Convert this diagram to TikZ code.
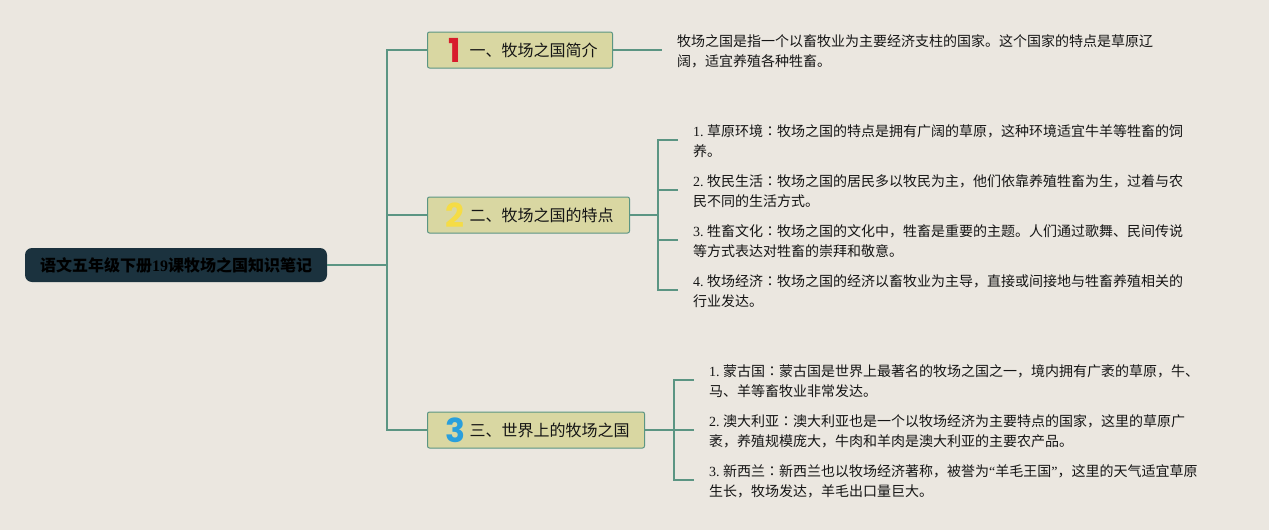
\documentclass[tikz,border=0pt]{standalone}
\usepackage{fontspec}
\setmainfont{Liberation Serif}
\newfontfamily\cjk{Noto Sans CJK SC}
\newfontfamily\cjktc{Noto Sans CJK TC}
\newfontfamily\lat{Liberation Serif}
\newfontfamily\numfont{Poppins}
\newcommand{\cc}{{\cjktc ：}}
\definecolor{bgc}{HTML}{EBE7E0}
\definecolor{linec}{HTML}{5B9583}
\definecolor{boxc}{HTML}{D9D7A2}
\definecolor{rootc}{HTML}{1B323E}
\definecolor{inkc}{HTML}{151515}
\definecolor{onec}{HTML}{D81C2C}
\definecolor{twoc}{HTML}{F5DC45}
\definecolor{threec}{HTML}{2A9FDC}
\tikzset{
  conn/.style={draw=linec,line width=2pt,line join=miter},
  rootbox/.style={draw=none,fill=rootc,rounded corners=7pt,minimum width=302pt,minimum height=34pt,inner sep=0pt,
    text=black,font=\cjk\bfseries\fontsize{16}{20}\selectfont},
  headbox/.style={anchor=west,draw=linec,line width=1pt,fill=boxc,rounded corners=2pt,minimum height=36pt,inner sep=0pt,
    text=inkc,font=\cjk\fontsize{16}{20}\selectfont},
  numlabel/.style={inner sep=0pt,font=\numfont\bfseries\fontsize{33}{33}\selectfont},
  detail/.style={anchor=west,inner xsep=15pt,inner ysep=0pt,align=left,text=inkc,font=\cjk\fontsize{14}{20}\selectfont}
}
\begin{document}
\begin{tikzpicture}[x=1pt,y=-1pt]
\useasboundingbox[fill=bgc] (0,0) rectangle (1269,530);
% root and headings
\node[rootbox] (root) at (176,265) {\raisebox{-0.7pt}{语文五年级下册{\lat\bfseries 19}课牧场之国知识笔记}};
\node[headbox] (b1) at (427,50) {\hspace*{42pt}\raisebox{-1pt}{一、牧场之国简介}\hspace*{15pt}};
\node[headbox] (b2) at (427,215) {\hspace*{42pt}\raisebox{-1pt}{二、牧场之国的特点}\hspace*{16pt}};
\node[headbox] (b3) at (427,430) {\hspace*{42pt}\raisebox{-1pt}{三、世界上的牧场之国}\hspace*{15pt}};
\node[numlabel,text=onec] (n1) at (455,50) {1};
\node[numlabel,text=twoc] (n2) at (455,215) {2};
\node[numlabel,text=threec] (n3) at (455,430) {3};
% details
\node[detail] (d11) at (662,51) {牧场之国是指一个以畜牧业为主要经济支柱的国家。这个国家的特点是草原辽\\阔，适宜养殖各种牲畜。};
\node[detail] (d21) at (678,141) {{\lat 1.\ }草原环境\cc 牧场之国的特点是拥有广阔的草原，这种环境适宜牛羊等牲畜的饲\\养。};
\node[detail] (d22) at (678,191) {{\lat 2.\ }牧民生活\cc 牧场之国的居民多以牧民为主，他们依靠养殖牲畜为生，过着与农\\民不同的生活方式。};
\node[detail] (d23) at (678,241) {{\lat 3.\ }牲畜文化\cc 牧场之国的文化中，牲畜是重要的主题。人们通过歌舞、民间传说\\等方式表达对牲畜的崇拜和敬意。};
\node[detail] (d24) at (678,291) {{\lat 4.\ }牧场经济\cc 牧场之国的经济以畜牧业为主导，直接或间接地与牲畜养殖相关的\\行业发达。};
\node[detail] (d31) at (694,381) {{\lat 1.\ }蒙古国\cc 蒙古国是世界上最著名的牧场之国之一，境内拥有广袤的草原，牛、\\马、羊等畜牧业非常发达。};
\node[detail] (d32) at (694,431) {{\lat 2.\ }澳大利亚\cc 澳大利亚也是一个以牧场经济为主要特点的国家，这里的草原广\\袤，养殖规模庞大，牛肉和羊肉是澳大利亚的主要农产品。};
\node[detail] (d33) at (694,481) {{\lat 3.\ }新西兰\cc 新西兰也以牧场经济著称，被誉为{\lat “}羊毛王国{\lat ”}，这里的天气适宜草原\\生长，牧场发达，羊毛出口量巨大。};
% junctions
\coordinate (t0) at (387,265);
\coordinate (t2) at (658,215);
\coordinate (t3) at (674,430);
% connectors
\draw[conn] (root.east) -- (t0);
\draw[conn] (t0) |- (b1.west);
\draw[conn] (t0) |- (b2.west);
\draw[conn] (t0) |- (b3.west);
\draw[conn] (b1.east) -- ([yshift=1pt]d11.west);
\draw[conn] (b2.east) -- (t2);
\draw[conn] (t2) |- ([yshift=1pt]d21.west);
\draw[conn] (t2) |- ([yshift=1pt]d22.west);
\draw[conn] (t2) |- ([yshift=1pt]d23.west);
\draw[conn] (t2) |- ([yshift=1pt]d24.west);
\draw[conn] (b3.east) -- (t3);
\draw[conn] (t3) |- ([yshift=1pt]d31.west);
\draw[conn] (t3) |- ([yshift=1pt]d32.west);
\draw[conn] (t3) |- ([yshift=1pt]d33.west);
\end{tikzpicture}
\end{document}
